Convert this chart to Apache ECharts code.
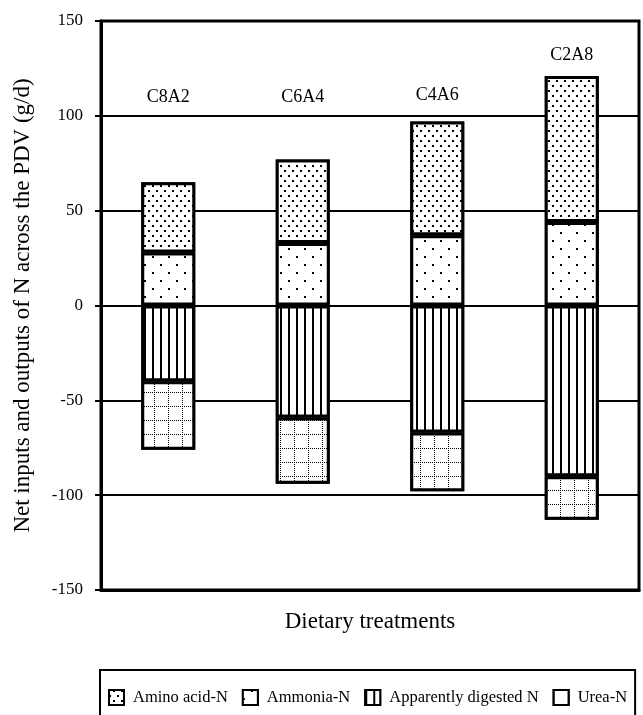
<!DOCTYPE html>
<html>
<head>
<meta charset="utf-8">
<script src="https://cdn.jsdelivr.net/npm/echarts@6/dist/echarts.min.js"></script>
<style>
  html, body { margin: 0; padding: 0; background: #fff; }
  #chart { width: 643px; height: 715px; }
</style>
</head>
<body>
<div id="chart"></div>
<script>
// treatments
var treatments = ['C8A2', 'C6A4', 'C4A6', 'C2A8'];
// g/d
var ammoniaN = [28, 33, 37, 44];
var aminoAcidN = [37, 44, 60, 77];
var digestedN = [-40, -59, -67, -90];
var ureaN = [-36, -35, -31, -23];
// height (in axis units) where each treatment name sits
var labelY = [110, 110, 111, 132];
var yTicks = [-150, -100, -50, 0, 50, 100, 150];

var serif = '"Liberation Serif", "DejaVu Serif", serif';

// fill patterns
var dotsDense = {
  symbol: 'rect', symbolSize: 1, color: '#000', backgroundColor: '#fff',
  dashArrayX: [[2, 6], [0, 4, 2, 2]], dashArrayY: [2, 3]
};
var dotsSparse = {
  symbol: 'rect', symbolSize: 1, color: '#000', backgroundColor: '#fff',
  dashArrayX: [[2, 14], [0, 8, 2, 6]], dashArrayY: [2, 6]
};
var vLines = {
  symbol: 'rect', symbolSize: 1, color: '#000', backgroundColor: '#fff',
  dashArrayX: [2, 6], dashArrayY: [1, 0]
};
var dottedGrid = {
  symbol: 'rect', symbolSize: 1, color: '#000', backgroundColor: '#fff',
  dashArrayX: [[1, 1], [1, 13], [1, 13], [1, 13], [1, 13], [1, 13], [1, 13]],
  dashArrayY: [1, 1, 1, 1, 1, 1, 1, 1, 1, 1, 1, 1, 1, 1]
};

function barSeries(name, data, decal) {
  return {
    name: name,
    type: 'bar',
    stack: 'n',
    barWidth: 54,
    data: data,
    itemStyle: { color: '#fff', borderColor: '#000', borderWidth: 3, decal: decal },
    emphasis: { disabled: true }
  };
}

function legendItem(name, decal) {
  return { name: name, icon: 'rect', itemStyle: { color: '#fff', decal: decal } };
}

var chart = echarts.init(document.getElementById('chart'));
chart.setOption({
  animation: false,
  textStyle: { fontFamily: serif },
  grid: {
    left: 101, right: 4, top: 21, bottom: 125,
    show: true, borderColor: '#000', borderWidth: 3
  },
  legend: {
    data: [
      legendItem('Amino acid-N', dotsDense),
      legendItem('Ammonia-N', dotsSparse),
      legendItem('Apparently digested N', vLines),
      legendItem('Urea-N', dottedGrid)
    ],
    icon: 'rect',
    left: 100, top: 670,
    padding: [19, 8, 30, 8],
    itemWidth: 15, itemHeight: 15, itemGap: 14,
    borderColor: '#000', borderWidth: 2,
    itemStyle: { borderWidth: 2, borderColor: '#000' },
    textStyle: { fontFamily: serif, fontSize: 16.5, color: '#000', padding: [0, 0, 0, 4] }
  },
  xAxis: {
    type: 'category',
    data: treatments,
    name: 'Dietary treatments',
    nameLocation: 'middle',
    nameGap: 20,
    nameTextStyle: { fontFamily: serif, fontSize: 23, color: '#000' },
    axisLine: { onZero: false, lineStyle: { color: '#000', width: 3 } },
    axisTick: { show: false },
    axisLabel: { show: false }
  },
  yAxis: {
    type: 'value',
    min: yTicks[0], max: yTicks[yTicks.length - 1], interval: 50,
    name: 'Net inputs and outputs of N across the PDV (g/d)',
    nameLocation: 'middle',
    nameGap: 67,
    nameTextStyle: { fontFamily: serif, fontSize: 23, color: '#000' },
    axisLine: { show: true, lineStyle: { color: '#000', width: 3 } },
    axisTick: { show: true, length: 6, lineStyle: { color: '#000', width: 2 } },
    axisLabel: { fontFamily: serif, fontSize: 17, color: '#000', margin: 18 },
    splitLine: { lineStyle: { color: '#000', width: 2 } }
  },
  series: [
    barSeries('Ammonia-N', ammoniaN, dotsSparse),
    barSeries('Amino acid-N', aminoAcidN, dotsDense),
    barSeries('Apparently digested N', digestedN, vLines),
    barSeries('Urea-N', ureaN, dottedGrid),
    {
      type: 'scatter',
      symbolSize: 0,
      silent: true,
      itemStyle: { opacity: 1 },
      data: treatments.map(function (t, i) { return [t, labelY[i]]; }),
      label: {
        show: true, position: 'inside',
        formatter: function (p) { return p.value[0]; },
        fontFamily: serif, fontSize: 18, color: '#000'
      }
    }
  ]
});
</script>
</body>
</html>
